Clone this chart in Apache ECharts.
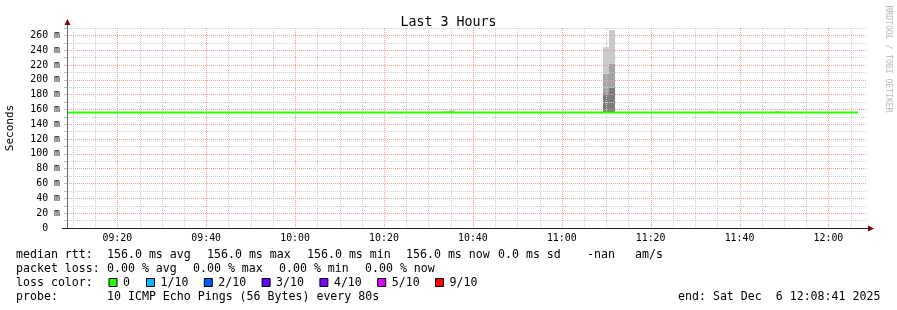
<!DOCTYPE html>
<html><head><meta charset="utf-8">
<script src="https://cdn.jsdelivr.net/npm/echarts@6/dist/echarts.min.js"></script>
<style>html,body{margin:0;padding:0;background:#fff}#c{width:897px;height:310px}</style>
</head><body><div id="c"></div>
<script>
// ---------- data ----------
const chartTitle = 'Last 3 Hours';
const yAxisName = 'Seconds';
const startTime = '09:08:41';
const endTime = '12:08:41';
const stepSeconds = 80;
const yMax = 270;
const xTickLabels = ['09:20','09:40','10:00','10:20','10:40','11:00','11:20','11:40','12:00'];
const xMinorGridTimes = ['09:10','09:15','09:25','09:30','09:35','09:45','09:50','09:55',
  '10:05','10:10','10:15','10:25','10:30','10:35','10:45','10:50','10:55',
  '11:05','11:10','11:15','11:25','11:30','11:35','11:45','11:50','11:55','12:05'];
const medianTimes = ['09:08:41','12:06:40'];
const medianValues = [156, 156];           // ms
const smokeTimes   = ['10:33:17','10:34:37','11:09:17','11:10:37','11:32:54','11:47:59'];
const smokeLow     = [156, 156, 156, 156, 156, 156];
const smokeDarkTop = [156, 156, 182, 189, 156, 156];
const smokeMidTop  = [156, 156, 208, 222, 156, 156];
const smokeHigh    = [157.8, 159, 244, 267, 158, 158];
const legendLines = [
  [['median rtt:',16],['156.0 ms avg',107],['156.0 ms max',207],['156.0 ms min',307],['156.0 ms now',406],['0.0 ms sd',498],['-nan',587],['am/s',635]],
  [['packet loss:',16],['0.00 % avg',107],['0.00 % max',193],['0.00 % min',279],['0.00 % now',365]],
  [['loss color:',16]],
  [['probe:',16],['10 ICMP Echo Pings (56 Bytes) every 80s',107],['end: Sat Dec  6 12:08:41 2025',678]]
];
const lossLabels = ['0','1/10','2/10','3/10','4/10','5/10','9/10'];
const lossColors = ['#26ff00','#00b8ff','#0059ff','#5e00ff','#7e00ff','#dd00ff','#ff0000'];
const watermark = 'RRDTOOL / TOBI OETIKER';

// ---------- helpers ----------
function toMin(s){const p=s.split(':').map(Number);return p[0]*60+p[1]+(p[2]||0)/60;}
function fmtMin(m){m=Math.round(m);const h=Math.floor(m/60),mm=m%60;return String(h).padStart(2,'0')+':'+String(mm).padStart(2,'0');}

const MONO = '"DejaVu Sans Mono", monospace';
const xMin = toMin(startTime), xMax = toMin(endTime);
const stepMin = stepSeconds/60;

const smokeData = smokeTimes.map((t,i)=>[toMin(t), smokeLow[i], smokeDarkTop[i], smokeMidTop[i], smokeHigh[i]]);
const medianData = medianTimes.map((t,i)=>[toMin(t), medianValues[i]]);
const vGridData = xMinorGridTimes.map(t=>[toMin(t), 0]).concat(xTickLabels.map(t=>[toMin(t), 1]));

const RED = '#f39a9a', GRAY = '#cdcdcd';

const graphics = [];
const rowY = [255, 268.5, 282.5, 296.5];
legendLines.forEach((line,r)=>{
  line.forEach(([txt,x])=>{
    graphics.push({type:'text', x:x, y:rowY[r], style:{text:txt, font:'11.6px '+MONO, fill:'#000', verticalAlign:'middle', textVerticalAlign:'middle'}});
  });
});
lossLabels.forEach((lab,i)=>{
  const bx = i===0 ? 108.5 : 146 + (i-1)*57.8;
  graphics.push({type:'rect', shape:{x:bx+0.5, y:278.5, width:8, height:8}, style:{fill:lossColors[i], stroke:'#000', lineWidth:1}});
  graphics.push({type:'text', x:bx+14.5, y:rowY[2], style:{text:lab, font:'11.6px '+MONO, fill:'#000', verticalAlign:'middle', textVerticalAlign:'middle'}});
});
graphics.push({type:'line', shape:{x1:67.5,y1:228,x2:67.5,y2:24}, style:{stroke:'#666',lineWidth:1}, z:10});
graphics.push({type:'line', shape:{x1:62,y1:228.5,x2:869,y2:228.5}, style:{stroke:'#222',lineWidth:1}, z:10});
graphics.push({type:'polygon', shape:{points:[[64.5,25],[70.5,25],[67.5,19]]}, style:{fill:'#7f0000'}, z:11});
graphics.push({type:'polygon', shape:{points:[[868,225.5],[868,231.5],[874,228.5]]}, style:{fill:'#7f0000'}, z:11});
graphics.push({type:'text', x:888, y:59, rotation:-Math.PI/2, style:{text:watermark, font:'8.1px '+MONO, fill:'#b8b8b8', align:'center', verticalAlign:'middle', textAlign:'center', textVerticalAlign:'middle'}});

const chart = echarts.init(document.getElementById('c'), null, {renderer:'canvas'});
chart.setOption({
  backgroundColor:'#ffffff',
  animation:false,
  title:{text:chartTitle, left:'center', top:11, textStyle:{fontFamily:MONO, fontSize:13.3, fontWeight:'normal', color:'#000'}},
  grid:{left:67, top:28, width:800, height:200, containLabel:false, outerBoundsMode:'none'},
  xAxis:{
    type:'value', min:xMin, max:xMax, z:2,
    axisLine:{show:false},
    axisTick:{show:false, customValues: xTickLabels.map(toMin)},
    axisLabel:{customValues: xTickLabels.map(toMin), formatter:v=>fmtMin(v), fontFamily:MONO, fontSize:9.9, color:'#000', margin:5},
    splitLine:{show:false}
  },
  yAxis:{
    type:'value', min:0, max:yMax, interval:10, z:2,
    name:yAxisName, nameLocation:'middle', nameGap:51,
    nameTextStyle:{fontFamily:MONO, fontSize:11, color:'#000'},
    axisLine:{show:false},
    axisTick:{show:true, length:3, lineStyle:{color:'#bbb'}},
    axisLabel:{formatter:v=> v%20!==0 ? '' : (v===0 ? '0  ' : v+' m'), fontFamily:MONO, fontSize:9.9, color:'#000', margin:7},
    splitLine:{show:true, lineStyle:{color:[RED,GRAY], type:[1,1], width:1}}
  },
  series:[
    {
      type:'custom', z:1, data:smokeData, encode:{x:0, y:[1,2,3,4]}, silent:true,
      renderItem:function(params, api){
        const t0 = api.value(0), t1 = t0 + stepMin;
        const v = [api.value(1), api.value(2), api.value(3), api.value(4)];
        const cols = ['#7c7c7c','#a4a4a4','#cacaca'];
        const children = [];
        for (let k=0;k<3;k++){
          if (v[k+1] > v[k]) {
            const p0 = api.coord([t0, v[k+1]]), p1 = api.coord([t1, v[k]]);
            children.push({type:'rect', shape:{x:Math.round(p0[0]), y:p0[1], width:Math.round(p1[0])-Math.round(p0[0]), height:p1[1]-p0[1]}, style:{fill:cols[k]}});
          }
        }
        return {type:'group', children};
      }
    },
    {
      // vertical grid lines (minor every 5 min, major at labelled times)
      type:'custom', z:2, data:vGridData, encode:{x:0}, silent:true,
      renderItem:function(params, api){
        const top = api.coord([api.value(0), yMax]);
        const bot = api.coord([api.value(0), 0]);
        const x = Math.round(top[0]) + 0.5;
        return {type:'line', shape:{x1:x, y1:top[1], x2:x, y2:bot[1]},
          style:{stroke: api.value(1) ? RED : GRAY, lineWidth:1, lineDash:[1,1]}};
      }
    },
    {
      type:'line', z:3, data:medianData, showSymbol:false, symbol:'none',
      lineStyle:{color:'#26ff00', width:2, cap:'butt'}, clip:false
    }
  ],
  graphic: graphics
});
</script></body></html>
